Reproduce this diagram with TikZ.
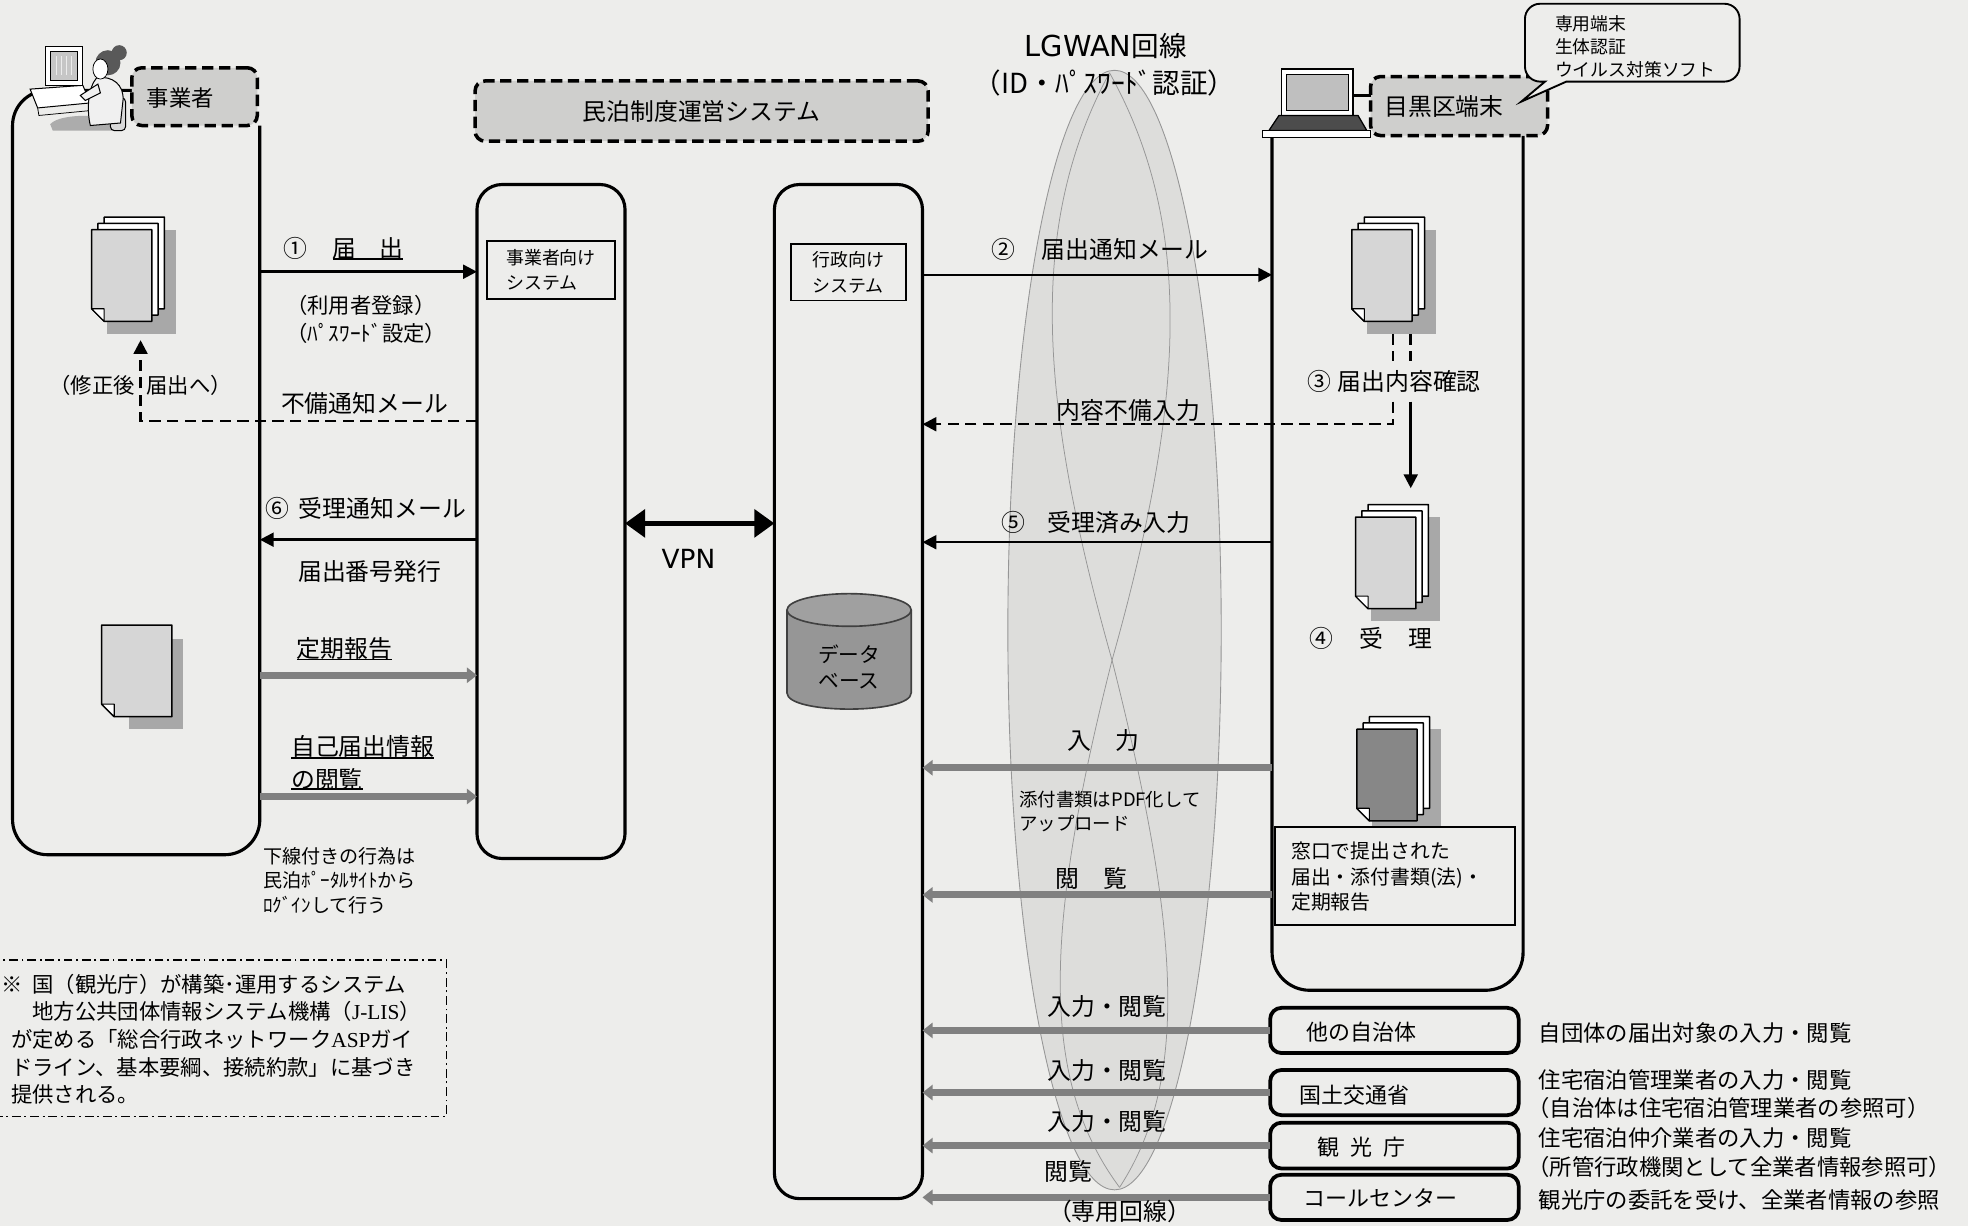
\documentclass[tikz,border=0pt]{standalone}
\usepackage{fontspec}
\setmainfont{Noto Sans CJK JP}
\newfontfamily\latinsans{DejaVu Sans}
\newfontfamily\latinserif{Liberation Serif}
\usetikzlibrary{arrows.meta}

\definecolor{paper}{RGB}{237,237,235}
\definecolor{hdrgray}{RGB}{207,207,205}
\definecolor{lensfill}{RGB}{221,221,219}
\definecolor{lensline}{RGB}{150,150,150}
\definecolor{pagefill}{RGB}{214,214,214}
\definecolor{shadowgray}{RGB}{168,168,168}
\definecolor{darkpage}{RGB}{135,135,135}
\definecolor{dbfill}{RGB}{150,150,150}
\definecolor{dbtop}{RGB}{160,160,160}
\definecolor{bararrow}{RGB}{128,128,128}

% one sheet of paper with a folded lower-left corner: x, y (top left), width, fill
\newcommand{\sheet}[4]{%
  \filldraw[fill=#4, draw=black, line width=1.2pt, line join=round]
    (#1,#2) -- ++(#3,0) -- ++(0,73) -- ++({-(#3)+10},0) -- ++(-10,-10) -- cycle;
  \filldraw[fill=white, draw=black, line width=0.9pt, line join=round]
    (#1,#2+63) -- ++(10,0) -- ++(0,10) -- cycle;
}
% a stack of three sheets with a drop shadow: x, y of the front sheet, front fill
\newcommand{\sheetstack}[3]{%
  \fill[shadowgray] (#1+12,#2) rectangle (#1+67,#2+83);
  \sheet{#1+10}{#2-10}{48}{white}
  \sheet{#1+5}{#2-5}{48}{white}
  \sheet{#1}{#2}{48}{#3}
}

\begin{document}
\begin{tikzpicture}[x=1pt,y=-1pt,
  every node/.style={inner sep=0pt, outer sep=0pt},
  t19/.style={font=\fontsize{19}{23}\selectfont},
  t18/.style={font=\fontsize{17.8}{22}\selectfont},
  t17/.style={font=\fontsize{17}{22.6}\selectfont},
  t16/.style={font=\fontsize{16.5}{21}\selectfont},
  t15/.style={font=\fontsize{15.2}{19.7}\selectfont},
  t14/.style={font=\fontsize{14.3}{20}\selectfont},
  laneline/.style={draw=black, line width=2.5pt},
  lane/.style={laneline, rounded corners=20pt},
  hdr/.style={draw=black, fill=hdrgray, line width=2.8pt, dash pattern=on 9pt off 4.5pt, rounded corners=8pt},
  inbox/.style={draw=black, fill=paper, line width=1.3pt},
  orgbox/.style={draw=black, fill=paper, line width=3pt, rounded corners=9pt, minimum width=198pt, minimum height=36pt},
  notebox/.style={draw=black, line width=1.3pt, dash pattern=on 7pt off 3pt on 1.5pt off 3pt},
  blk/.style={draw=black, line width=2pt, -{Triangle[length=11pt,width=11pt]}},
  dsh/.style={draw=black, line width=2pt, dash pattern=on 9pt off 5pt},
  dsharrow/.style={dsh, -{Triangle[length=11pt,width=11pt]}},
  bar/.style={draw=bararrow, line width=5.5pt, -{Triangle[length=8pt,width=12pt]}},
  vpn/.style={draw=black, line width=3.5pt, {Triangle[length=16pt,width=22pt]}-{Triangle[length=16pt,width=22pt]}},
  uline/.style={draw=black, line width=1.1pt},
]

% ---------- paper
\fill[paper] (0,0) rectangle (1568,977);
\useasboundingbox (0,0) rectangle (1568,977);

% ---------- LGWAN band
\filldraw[fill=lensfill, draw=lensline, line width=0.7pt] (888,502) ellipse [x radius=85, y radius=446];
\draw[lensline, line width=0.6pt] (884,58) .. controls (818,180) and (828,320) .. (886,526) .. controls (940,740) and (948,860) .. (892,946);
\draw[lensline, line width=0.6pt] (884,58) .. controls (952,180) and (944,320) .. (886,526) .. controls (832,740) and (828,860) .. (892,946);
\node[font=\fontsize{22}{26}\selectfont] (lgwanTitle) at (881,37) {{\latinsans\fontsize{23}{26}\selectfont LGWAN}回線};
\node[font=\fontsize{22}{26}\selectfont] (lgwanAuth) at (880,66.4) {（ID・ﾊﾟｽﾜｰﾄﾞ認証）};

% ---------- operator lane
\node[minimum width=197pt, minimum height=609pt] (opLane) at (108.5,376.5) {};
\draw[laneline, rounded corners=28pt] (105,72) -- (10,72) -- (10,681) -- (207,681) -- (207,100);

% operator at a desk
\filldraw[fill=white, draw=black, line width=0.8pt] (24,71) -- (66,68) -- (72,82) -- (30,86) -- cycle;
\draw[line width=0.6pt] (30,86) -- (31,92) -- (73,88) -- (72,82);
\filldraw[fill=white, draw=black, line width=1pt] (36,37) rectangle (66,68);
\filldraw[fill=gray!45, draw=black, line width=0.6pt] (40,41) rectangle (62,64);
\foreach \sx in {45,49,53,57} \draw[gray!15, line width=0.9pt] (\sx,45) -- (\sx,60);
\fill[gray!65] (40,99) .. controls (46,92) and (70,90) .. (98,95) -- (98,104) -- (42,104) -- cycle;
\filldraw[fill=gray!30, draw=black, line width=0.8pt, rounded corners=3pt] (88,78) rectangle (100,104);
\filldraw[fill=gray!12, draw=black, line width=0.8pt] (77,62) .. controls (90,60) and (99,68) .. (98,80) -- (96,98) -- (72,100) .. controls (69,88) and (70,70) .. (77,62) -- cycle;
\filldraw[fill=gray!12, draw=black, line width=0.8pt] (78,67) -- (64,76) -- (68,80) -- (80,74) -- cycle;
\fill[gray!70!black] (86,50) circle [radius=10];
\fill[gray!70!black] (95,42) circle [radius=6];
\filldraw[fill=white, draw=black, line width=0.6pt] (80,55) ellipse [x radius=6, y radius=8];

\node[hdr, minimum width=100pt, minimum height=46pt] (opTag) at (155,77) {};
\node[t18, anchor=west] (opTagText) at (117,78) {事業者};

% ---------- system header
\node[hdr, t19, minimum width=361pt, minimum height=48pt] (sysTag) at (559,88.5) {民泊制度運営システム};

% ---------- operator-facing system
\node[lane, minimum width=118pt, minimum height=537pt] (bizSys) at (439,415.5) {};
\node[inbox, t14, align=left, minimum width=102pt, minimum height=46pt] (bizSysLbl) at (439,215) {事業者向け\\システム};

% ---------- government-facing system
\node[lane, minimum width=118pt, minimum height=808pt] (govSys) at (676,551) {};
\node[inbox, t14, align=left, minimum width=92pt, minimum height=45pt] (govSysLbl) at (676,217) {行政向け\\システム};

% database
\fill[dbfill] (627,486) -- (627,552) .. controls (627,569.3) and (726,569.3) .. (726,552) -- (726,486) -- cycle;
\draw[line width=1.3pt, black!75] (627,486) -- (627,552) .. controls (627,569.3) and (726,569.3) .. (726,552) -- (726,486);
\filldraw[fill=dbtop, draw=black!75, line width=1.3pt] (676.5,486) ellipse [x radius=49.5, y radius=13];
\node[t16, align=center] (dbText) at (676.5,531.5) {データ\\ベース};

% ---------- ward lane
\node[minimum width=200pt, minimum height=681pt] (cityLane) at (1113.5,448.5) {};
\draw[laneline, rounded corners=30pt] (1013.5,109) -- (1013.5,789) -- (1213.5,789) -- (1213.5,108);

% laptop
\filldraw[fill=white, draw=black, line width=1.3pt] (1021,55) rectangle (1078,92);
\filldraw[fill=gray!50, draw=black, line width=0.6pt] (1025,59) rectangle (1074,88);
\filldraw[fill=black!70, draw=black, line width=1pt] (1019,92) -- (1082,92) -- (1089,104) -- (1011,104) -- cycle;
\filldraw[fill=white, draw=black, line width=1.1pt] (1006,104) rectangle (1092,109.5);
\coordinate (laptopScr) at (1078,76);

\node[hdr, minimum width=141pt, minimum height=47pt] (cityTag) at (1162.5,84.5) {};
\node[t19, anchor=west] (cityTagText) at (1103,85) {目黒区端末};
\draw[line width=2.8pt] (laptopScr) -- (cityTag.west |- laptopScr);

% callout
\filldraw[fill=paper, draw=black, line width=1.5pt] (1248,65) -- (1374,65) .. controls (1380.6,65) and (1386,59.6) .. (1386,53) -- (1386,15) .. controls (1386,8.4) and (1380.6,3) .. (1374,3) -- (1227,3) .. controls (1220.4,3) and (1215,8.4) .. (1215,15) -- (1215,53) .. controls (1215,59.6) and (1220.4,65) .. (1227,65) -- (1231,65) -- (1212,81) -- cycle;
\node[font=\fontsize{14.2}{18.6}\selectfont, align=left, anchor=west] (calloutText) at (1239,37.2) {専用端末\\生体認証\\ウイルス対策ソフト};

% ---------- documents
\sheetstack{73}{183}{pagefill}
\fill[shadowgray] (103,509) rectangle (146,581);
\sheet{81}{498}{56}{pagefill}
\sheetstack{1077}{183}{pagefill}
\sheetstack{1080}{412}{pagefill}
\sheetstack{1081}{581}{darkpage}

\node[inbox, minimum width=191pt, minimum height=78pt] (counterBox) at (1111.5,698) {};
\node[font=\fontsize{15.8}{20.5}\selectfont, align=left, anchor=west] (counterText) at (1028.8,698.5) {窓口で提出された\\届出・添付書類(法)・\\定期報告};

% ---------- row levels
\coordinate (rowFile) at (0,216.5);
\coordinate (rowNg) at (0,335.5);
\coordinate (fixUp) at (112,271);
\coordinate (rowOk) at (0,430);
\coordinate (rowVpn) at (0,417);
\coordinate (rowRep) at (0,538);
\coordinate (rowView) at (0,634.6);
\coordinate (rowNotify) at (0,219);
\coordinate (rowDefect) at (0,338);
\coordinate (rowDone) at (0,432);
\coordinate (rowInput) at (0,611.7);
\coordinate (rowBrowse) at (0,713);
\coordinate (chkL) at (1110,266);
\coordinate (chkR) at (1124,266);
\coordinate (chkL2) at (1110,320);
\coordinate (chkR2) at (1124,320);
\coordinate (recvTop) at (1124,389);

% ---------- connectors
\draw[blk] (opLane.east |- rowFile) -- (bizSys.west |- rowFile);
\draw[dsharrow] (bizSys.west |- rowNg) -- (fixUp |- rowNg) -- (fixUp);
\draw[blk] (bizSys.west |- rowOk) -- (opLane.east |- rowOk);
\draw[bar] (opLane.east |- rowRep) -- (bizSys.west |- rowRep);
\draw[bar] (opLane.east |- rowView) -- (bizSys.west |- rowView);
\draw[vpn] (bizSys.east |- rowVpn) -- (govSys.west |- rowVpn);
\draw[blk] (govSys.east |- rowNotify) -- (cityLane.west |- rowNotify);
\draw[dsh] (chkL) -- ++(0,22);
\draw[dsh] (chkR) -- ++(0,22);
\draw[dsharrow] (chkL2) -- (chkL2 |- rowDefect) -- (govSys.east |- rowDefect);
\draw[blk] (chkR2) -- (recvTop);
\draw[blk] (cityLane.west |- rowDone) -- (govSys.east |- rowDone);
\draw[bar] (cityLane.west |- rowInput) -- (govSys.east |- rowInput);
\draw[bar] (cityLane.west |- rowBrowse) -- (govSys.east |- rowBrowse);

% ---------- other organisations
\node[orgbox] (otherGov) at (1111,821) {};
\node[orgbox] (mlit) at (1111,870.5) {};
\node[orgbox, minimum height=36.5pt] (jta) at (1111,912.75) {};
\node[orgbox] (callCtr) at (1111,954) {};
\node[font=\fontsize{17.5}{21}\selectfont] (otherGovText) at (1085,822) {他の自治体};
\node[font=\fontsize{17.5}{21}\selectfont] (mlitText) at (1079,872.5) {国土交通省};
\node[font=\fontsize{17.5}{21}\selectfont] (jtaText) at (1085,913.6) {観\hspace{0.5em}光\hspace{0.5em}庁};
\node[font=\fontsize{17.5}{21}\selectfont] (callCtrText) at (1100,954.6) {コールセンター};
\draw[bar] (otherGov.west) -- (govSys.east |- otherGov.west);
\draw[bar] (mlit.west) -- (govSys.east |- mlit.west);
\draw[bar] (jta.west) -- (govSys.east |- jta.west);
\draw[bar] (callCtr.west) -- (govSys.east |- callCtr.west);

% ---------- labels
\node[t19, anchor=west] (circ1) at (226,198) {①};
\node[t19, anchor=west] (todokeLbl) at (265,198) {届\hspace{0.95em}出};
\draw[uline] ([yshift=-8.5pt]todokeLbl.west) -- ([yshift=-8.5pt]todokeLbl.east);
\node[t17, align=left, anchor=west] (regNote) at (228,254.3) {（利用者登録）\\（ﾊﾟｽﾜｰﾄﾞ設定）};
\node[t17] (fixNote) at (112,307) {（修正後\hspace{0.55em}届出へ）};
\node[t19, anchor=west] (ngMail) at (224,321.5) {不備通知メール};
\node[t19, anchor=west] (okMail) at (211.6,405.4) {⑥\hspace{0.4em}受理通知メール};
\node[t19, anchor=west] (numIssue) at (237.6,455.7) {届出番号発行};
\node[t19, anchor=west] (periodic) at (236.5,517) {定期報告};
\draw[uline] ([yshift=-8.5pt]periodic.west) -- ([yshift=-8.5pt]periodic.east);
\node[t19, anchor=west] (selfInfo) at (232,595) {自己届出情報};
\draw[uline] ([yshift=-9pt]selfInfo.west) -- ([yshift=-9pt]selfInfo.east);
\node[t19, anchor=west] (selfView) at (232,620.7) {の閲覧};
\draw[uline] ([yshift=-8pt]selfView.west) -- ([yshift=-8pt]selfView.east);
\node[t15, align=left, anchor=west] (portalNote) at (209.8,701.7) {下線付きの行為は\\民泊ﾎﾟｰﾀﾙｻｲﾄから\\ﾛｸﾞｲﾝして行う};
\node[font={\latinsans\fontsize{21}{24}\selectfont}] (vpnLbl) at (548.5,445) {VPN};

\node[t19, anchor=west] (circ2) at (790,199) {②\hspace{1.1em}届出通知メール};
\node[t19] (defectIn) at (899,327) {内容不備入力};
\node[t19, anchor=west] (checkLbl) at (1041.6,304) {③\hspace{0.27em}届出内容確認};
\node[t19, anchor=west] (recvLbl) at (1043,509) {④\hspace{1.1em}受\hspace{1.05em}理};
\node[t19, anchor=west] (recvIn) at (797.6,416.5) {⑤\hspace{0.95em}受理済み入力};
\node[t19] (inputLbl) at (879,589.6) {入\hspace{1em}力};
\node[font=\fontsize{14.7}{19}\selectfont, align=left, anchor=west] (pdfNote) at (812,646.5) {添付書類はPDF化して\\アップロード};
\node[t19] (viewLbl) at (869.5,700) {閲\hspace{1em}覧};

\node[t19] (accA) at (882,802) {入力・閲覧};
\node[t19] (accB) at (882,852.6) {入力・閲覧};
\node[t19] (accC) at (882,893.7) {入力・閲覧};
\node[t19] (accD) at (851.5,933.5) {閲覧};
\node[t19] (leased) at (892,965.4) {（専用回線）};

\node[t18, anchor=west] (descA) at (1226,823) {自団体の届出対象の入力・閲覧};
\node[t18, anchor=west] (descB1) at (1226,860.5) {住宅宿泊管理業者の入力・閲覧};
\node[t18, anchor=west] (descB2) at (1217,883) {（自治体は住宅宿泊管理業者の参照可）};
\node[t18, anchor=west] (descC1) at (1226,907) {住宅宿泊仲介業者の入力・閲覧};
\node[t18, anchor=west] (descC2) at (1217,930) {（所管行政機関として全業者情報参照可）};
\node[t18, anchor=west] (descD) at (1226,956) {観光庁の委託を受け、全業者情報の参照};

% ---------- footnote
\node[notebox, minimum width=360.6pt, minimum height=124.5pt] (noteBox) at (175.3,827.25) {};
\node[font=\fontsize{17}{22}\selectfont, align=left, anchor=west] (noteText) at (9,828) {\hspace*{-8pt}※\hspace{8pt}国（観光庁）が構築･運用するシステム\\　地方公共団体情報システム機構（{\latinserif J-LIS}）\\が定める「総合行政ネットワーク{\latinserif ASP}ガイ\\ドライン、基本要綱、接続約款」に基づき\\提供される。};

\end{tikzpicture}
\end{document}
